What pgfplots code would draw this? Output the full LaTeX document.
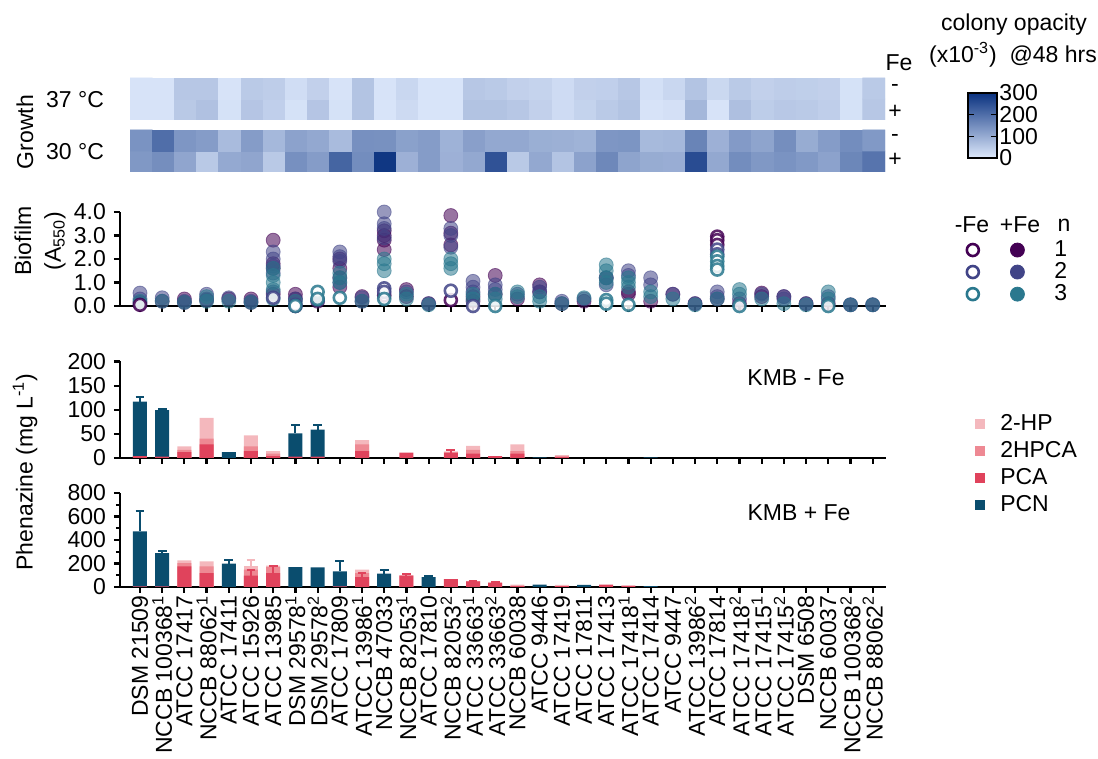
\documentclass[border=0pt]{standalone}
\usepackage{fontspec}
\setmainfont{Liberation Sans}
\usepackage{pgfplots}
\pgfplotsset{compat=1.18}
\usetikzlibrary{calc}
\definecolor{cA}{RGB}{68,1,84}
\definecolor{cB}{RGB}{65,68,135}
\definecolor{cC}{RGB}{42,120,142}
\definecolor{hp}{RGB}{244,184,189}
\definecolor{hpca}{RGB}{238,137,147}
\definecolor{pca}{RGB}{224,67,92}
\definecolor{pcn}{RGB}{10,77,110}
\pgfplotsset{colormap={opac}{rgb255(0cm)=(222,233,252); rgb255(1cm)=(10,50,128)}}
\newcommand{\fs}{\fontsize{11.5}{13}\selectfont}
\pgfplotsset{
  strip/.style={scale only axis, width=383pt, xmin=-0.9, xmax=33.6,
    axis x line*=bottom, axis y line*=left, axis line style={line width=1.1pt},
    every tick/.style={black, line width=1.1pt}, major tick length=3pt, minor tick length=2pt,
    tick align=outside, xtick={0,...,33}, xticklabels={},
    tick label style={font=\fs}, /pgf/number format/assume math mode=true,
    clip=false, anchor=south west},
  heat/.style={scale only axis, width=377.5pt, height=21pt, xmin=-0.5, xmax=33.5,
    ymin=-0.5, ymax=1.5, axis line style={draw=none}, xtick=\empty, ytick=\empty,
    point meta min=0, point meta max=300, anchor=south west},
  pbar/.style={ybar, bar width=7pt, bar shift=0pt, draw=none, forget plot},
  perr/.style={error bars/.cd, y dir=plus, y explicit,
    error bar style={line width=1pt, color=#1},
    error mark options={rotate=90, mark size=2.2pt, line width=1pt, color=#1}},
  fmark/.style={only marks, mark=*, mark size=3.5pt, forget plot,
    mark options={fill=#1, draw=#1, opacity=0.55}},
  omark/.style={only marks, mark=*, mark size=3pt, forget plot,
    mark options={fill=white, draw=#1, line width=1.3pt, opacity=0.85}},
}
\begin{document}
\begin{tikzpicture}
\useasboundingbox (0,0) rectangle (549pt,379.5pt);
\fs
% ---------------- heat map 37 C
\begin{axis}[heat, at={(65pt,319.5pt)},
  colorbar,
  colorbar style={at={($(parent axis.south west)+(410.5pt,-19pt)$)}, anchor=south west,
    scale only axis, width=14.5pt, height=32.5pt,
    ytick={0,100,200,300}, yticklabel pos=right, ytick pos=both, tick align=inside,
    major tick length=3pt, every tick/.style={black, line width=0.8pt},
    axis line style={draw=black, line width=0.8pt},
    yticklabel style={font=\fs, inner sep=1pt},
    /pgf/number format/assume math mode=true}]
\addplot[matrix plot*, mesh/cols=34, point meta=explicit] table[meta=c, row sep=\\] {
x y c\\
0 0 10\\ 1 0 10\\ 2 0 52\\ 3 0 65\\ 4 0 12\\ 5 0 58\\ 6 0 42\\ 7 0 12\\ 8 0 58\\ 9 0 12\\ 10 0 60\\ 11 0 8\\ 12 0 24\\ 13 0 8\\ 14 0 8\\ 15 0 62\\ 16 0 62\\ 17 0 55\\ 18 0 40\\ 19 0 22\\ 20 0 36\\ 21 0 50\\ 22 0 60\\ 23 0 10\\ 24 0 14\\ 25 0 82\\ 26 0 10\\ 27 0 68\\ 28 0 46\\ 29 0 53\\ 30 0 50\\ 31 0 44\\ 32 0 12\\ 33 0 55\\
0 1 10\\ 1 1 10\\ 2 1 55\\ 3 1 55\\ 4 1 10\\ 5 1 50\\ 6 1 45\\ 7 1 20\\ 8 1 40\\ 9 1 10\\ 10 1 60\\ 11 1 10\\ 12 1 30\\ 13 1 8\\ 14 1 8\\ 15 1 55\\ 16 1 50\\ 17 1 40\\ 18 1 35\\ 19 1 22\\ 20 1 40\\ 21 1 42\\ 22 1 55\\ 23 1 15\\ 24 1 30\\ 25 1 60\\ 26 1 28\\ 27 1 50\\ 28 1 40\\ 29 1 45\\ 30 1 43\\ 31 1 40\\ 32 1 12\\ 33 1 50\\
};
\end{axis}
% ---------------- heat map 30 C
\begin{axis}[heat, at={(65pt,293.5pt)}]
\addplot[matrix plot*, mesh/cols=34, point meta=explicit] table[meta=c, row sep=\\] {
x y c\\
0 0 132\\ 1 0 148\\ 2 0 110\\ 3 0 52\\ 4 0 104\\ 5 0 110\\ 6 0 52\\ 7 0 145\\ 8 0 125\\ 9 0 215\\ 10 0 150\\ 11 0 290\\ 12 0 92\\ 13 0 125\\ 14 0 92\\ 15 0 105\\ 16 0 245\\ 17 0 52\\ 18 0 105\\ 19 0 60\\ 20 0 115\\ 21 0 158\\ 22 0 112\\ 23 0 100\\ 24 0 97\\ 25 0 255\\ 26 0 105\\ 27 0 150\\ 28 0 132\\ 29 0 140\\ 30 0 130\\ 31 0 115\\ 32 0 160\\ 33 0 190\\
0 1 140\\ 1 1 200\\ 2 1 135\\ 3 1 125\\ 4 1 75\\ 5 1 125\\ 6 1 80\\ 7 1 115\\ 8 1 105\\ 9 1 75\\ 10 1 145\\ 11 1 143\\ 12 1 118\\ 13 1 125\\ 14 1 90\\ 15 1 120\\ 16 1 105\\ 17 1 105\\ 18 1 95\\ 19 1 93\\ 20 1 88\\ 21 1 135\\ 22 1 137\\ 23 1 77\\ 24 1 80\\ 25 1 165\\ 26 1 92\\ 27 1 128\\ 28 1 112\\ 29 1 148\\ 30 1 100\\ 31 1 125\\ 32 1 150\\ 33 1 130\\
};
\end{axis}
% ---------------- biofilm
\begin{axis}[strip, at={(60pt,226.5pt)}, height=47pt, ymin=0, ymax=4, ytick={0,1,2,3,4},
  yticklabel style={/pgf/number format/.cd, fixed, fixed zerofill, precision=1},
  legend columns=2,
  legend image code/.code={\draw[#1] plot coordinates {(0pt,0pt)};},
  legend style={at={(axis description cs:1.105,0.702)}, anchor=north west, draw=none, fill=none,
    column sep=7.4pt, row sep=1.3pt, inner sep=0pt, nodes={inner sep=0pt, font=\fs}}]
\addplot[fmark=cA] coordinates {(0,0.15)(1,0.2)(2,0.3)(2,0.15)(3,0.25)(4,0.3)(5,0.3)(5,0.15)(6,2.8)(6,1.8)(6,1.6)(6,0.5)(7,0.5)(7,0.3)(8,0.2)(9,2.0)(9,1.6)(9,1.2)(9,0.8)(10,0.4)(10,0.2)(11,3.2)(11,3.0)(11,2.8)(11,2.4)(12,0.7)(12,0.4)(13,0.1)(14,3.85)(14,3.1)(14,2.6)(15,0.4)(15,0.2)(16,1.3)(16,0.5)(17,0.3)(18,0.9)(18,0.6)(19,0.1)(20,0.2)(21,1.2)(22,0.6)(22,0.5)(23,0.2)(24,0.5)(25,0.1)(26,0.3)(27,0.1)(28,0.55)(28,0.4)(29,0.4)(30,0.1)(31,0.1)(32,0.05)(33,0.05)};
\addplot[fmark=cB] coordinates {(0,0.55)(0,0.3)(1,0.35)(2,0.2)(3,0.5)(3,0.3)(4,0.35)(5,0.2)(6,2.3)(6,2.0)(6,1.7)(6,1.4)(6,0.6)(7,0.3)(8,0.25)(9,2.3)(9,2.1)(9,1.9)(9,1.0)(10,0.35)(11,4.0)(11,3.5)(11,3.3)(11,2.9)(12,0.6)(13,0.1)(14,3.3)(14,3.0)(14,2.5)(15,1.05)(15,0.8)(15,0.6)(16,0.9)(16,0.7)(17,0.5)(18,0.8)(18,0.6)(19,0.2)(20,0.3)(21,1.2)(21,0.9)(22,1.5)(22,1.3)(23,1.2)(23,0.9)(24,0.5)(25,0.1)(26,0.6)(26,0.4)(27,0.3)(28,0.5)(29,0.4)(29,0.3)(30,0.1)(31,0.4)(32,0.05)(33,0.05)};
\addplot[fmark=cC] coordinates {(0,0.2)(0,0.1)(1,0.2)(2,0.15)(3,0.4)(3,0.2)(4,0.2)(5,0.15)(6,1.6)(6,1.3)(6,1.0)(6,0.7)(6,0.3)(7,0.2)(8,0.3)(9,1.4)(9,1.2)(9,1.0)(10,0.2)(11,2.0)(11,1.8)(11,1.5)(12,0.5)(12,0.3)(13,0.05)(14,2.0)(14,1.8)(14,1.6)(15,0.5)(15,0.3)(16,0.5)(16,0.3)(17,0.6)(17,0.4)(18,0.4)(18,0.2)(19,0.1)(20,0.35)(21,1.75)(21,1.5)(21,1.2)(21,1.0)(22,1.2)(22,1.0)(22,0.8)(23,0.6)(23,0.4)(24,0.3)(25,0.05)(26,0.3)(27,0.7)(27,0.5)(28,0.3)(29,0.1)(30,0.05)(31,0.6)(31,0.3)(32,0.05)(33,0.05)};
\addplot[omark=cA] coordinates {(0,0.05)(7,0.0)(11,0.45)(14,0.25)(26,2.95)(26,2.8)(26,2.6)};
\addplot[omark=cB] coordinates {(6,0.35)(7,0.05)(11,0.75)(11,0.6)(14,0.65)(15,0.0)(26,2.4)(26,2.2)};
\addplot[omark=cC] coordinates {(7,0.0)(8,0.6)(8,0.3)(9,0.35)(11,0.3)(16,0.0)(21,0.25)(21,0.1)(22,0.05)(26,2.1)(26,1.9)(26,1.7)(26,1.55)(27,0.0)(31,0.0)};
\addlegendimage{only marks, mark=*, mark size=3pt, mark options={fill=white, draw=cA, line width=1.3pt}}
\addlegendentry{\hspace*{0pt}}
\addlegendimage{only marks, mark=*, mark size=3.5pt, mark options={fill=cA, draw=cA}}
\addlegendentry{\hspace*{7.6pt}1}
\addlegendimage{only marks, mark=*, mark size=3pt, mark options={fill=white, draw=cB, line width=1.3pt}}
\addlegendentry{\hspace*{0pt}}
\addlegendimage{only marks, mark=*, mark size=3.5pt, mark options={fill=cB, draw=cB}}
\addlegendentry{\hspace*{7.6pt}2}
\addlegendimage{only marks, mark=*, mark size=3pt, mark options={fill=white, draw=cC, line width=1.3pt}}
\addlegendentry{\hspace*{0pt}}
\addlegendimage{only marks, mark=*, mark size=3.5pt, mark options={fill=cC, draw=cC}}
\addlegendentry{\hspace*{7.6pt}3}
\end{axis}
% ---------------- phenazine - Fe
\begin{axis}[strip, at={(60pt,150.5pt)}, height=48.25pt, ymin=0, ymax=200, ytick={0,50,100,150,200},
  legend image code/.code={\fill[#1] (-2.5pt,-2.5pt) rectangle (2.5pt,2.5pt);},
  legend style={at={(axis description cs:1.116,0.456)}, anchor=north west, draw=none, fill=none,
    column sep=7.5pt, row sep=3.7pt, inner sep=0pt, nodes={inner sep=0pt, font=\fs}},
  legend cell align=left]
\addplot[pbar, fill=hp] coordinates {(2,24)(3,83)(5,47)(6,14)(10,37)(15,25)(17,28)(19,6)};
\addplot[pbar, fill=hpca] coordinates {(2,17)(3,40)(5,24)(6,9)(10,28)(14,13)(15,17)(17,14)};
\addplot[pbar, fill=pcn, perr=pcn] coordinates {(0,117) +- (0,10) (1,99) +- (0,2) (7,51) +- (0,17) (8,59) +- (0,9)};
\addplot[pbar, fill=pcn] coordinates {(4,12)(18,1.5)(23,1.5)};
\addplot[pbar, fill=pca] coordinates {(0,4)(1,3)(2,12)(3,28)(5,14)(6,4)(7,3)(8,3)(10,14)(12,11)(15,9)(16,4)(17,9)(19,3)};
\addplot[pbar, fill=pca, perr=pca] coordinates {(14,11) +- (0,6)};
\addlegendimage{fill=hp, draw=none}\addlegendentry{2-HP}
\addlegendimage{fill=hpca, draw=none}\addlegendentry{2HPCA}
\addlegendimage{fill=pca, draw=none}\addlegendentry{PCA}
\addlegendimage{fill=pcn, draw=none}\addlegendentry{PCN}
\end{axis}
% ---------------- phenazine + Fe
\begin{axis}[strip, at={(60pt,86pt)}, height=47pt, ymin=0, ymax=800, ytick={0,200,400,600,800},
  minor ytick={100,300,500,700},
  xticklabels={DSM 21509, NCCB 100368\textsuperscript{1}, ATCC 17417, NCCB 88062\textsuperscript{1}, ATCC 17411, ATCC 15926, ATCC 13985, DSM 29578\textsuperscript{1}, DSM 29578\textsuperscript{2}, ATCC 17809, ATCC 13986\textsuperscript{1}, NCCB 47033, NCCB 82053\textsuperscript{1}, ATCC 17810, NCCB 82053\textsuperscript{2}, ATCC 33663\textsuperscript{1}, ATCC 33663\textsuperscript{2}, NCCB 60038, ATCC 9446, ATCC 17419, ATCC 17811, ATCC 17413, ATCC 17418\textsuperscript{1}, ATCC 17414, ATCC 9447, ATCC 13986\textsuperscript{2}, ATCC 17814, ATCC 17418\textsuperscript{2}, ATCC 17415\textsuperscript{1}, ATCC 17415\textsuperscript{2}, DSM 6508, NCCB 60037, NCCB 100368\textsuperscript{2}, NCCB 88062\textsuperscript{2}},
  xticklabel style={rotate=90, anchor=east, font=\fontsize{11.5}{12}\selectfont, inner sep=1pt}]
\addplot[pbar, fill=hp] coordinates {(2,227)(3,218)(6,182)(10,148)(12,100)(15,50)(17,20)(19,18)};
\addplot[pbar, fill=hp, perr=hp] coordinates {(5,176) +- (0,51)};
\addplot[pbar, fill=hpca] coordinates {(2,204)(3,176)(5,148)(6,170)(10,119)(16,40)};
\addplot[pbar, fill=pcn] coordinates {(7,170)(8,167)(18,20)(20,18)(23,8)};
\addplot[pbar, fill=pcn, perr=pcn] coordinates {(0,474) +- (0,170) (1,289) +- (0,20) (4,199) +- (0,34) (9,133) +- (0,85) (11,113) +- (0,29) (13,85) +- (0,5)};
\addplot[pbar, fill=pca] coordinates {(0,5)(1,5)(2,176)(3,119)(9,5)(14,68)(17,10)(19,8)(21,20)(22,12)};
\addplot[pbar, fill=pca, perr=pca] coordinates {(5,96) +- (0,52) (6,119) +- (0,63) (10,85) +- (0,34) (12,96) +- (0,17) (15,48) +- (0,6) (16,34) +- (0,8)};
\end{axis}
% ---------------- text
\node[rotate=90] at (12.5pt,313.5pt) {Growth};
\node[anchor=east] at (56pt,329.5pt) {37 °C};
\node[anchor=east] at (56pt,303.5pt) {30 °C};
\node at (449.5pt,348pt) {Fe};
\node at (447.5pt,335.5pt) {-};
\node at (447.5pt,323.5pt) {+};
\node at (447.5pt,310.5pt) {-};
\node at (447.5pt,299.5pt) {+};
\node at (507pt,367pt) {colony opacity};
\node at (506.5pt,352pt) {(x10\textsuperscript{-3})\ \ @48 hrs};
\node[rotate=90] at (11.5pt,259pt) {Biofilm};
\node[rotate=90] at (27.5pt,259pt) {(A\textsubscript{550})};
\node at (486pt,267pt) {-Fe};
\node at (510pt,267pt) {+Fe};
\node at (532pt,267pt) {n};
\node[rotate=90] at (12.5pt,143.5pt) {Phenazine (mg L\textsuperscript{-1})};
\node at (398pt,190.5pt) {KMB - Fe};
\node at (399.5pt,123pt) {KMB + Fe};
\end{tikzpicture}
\end{document}
